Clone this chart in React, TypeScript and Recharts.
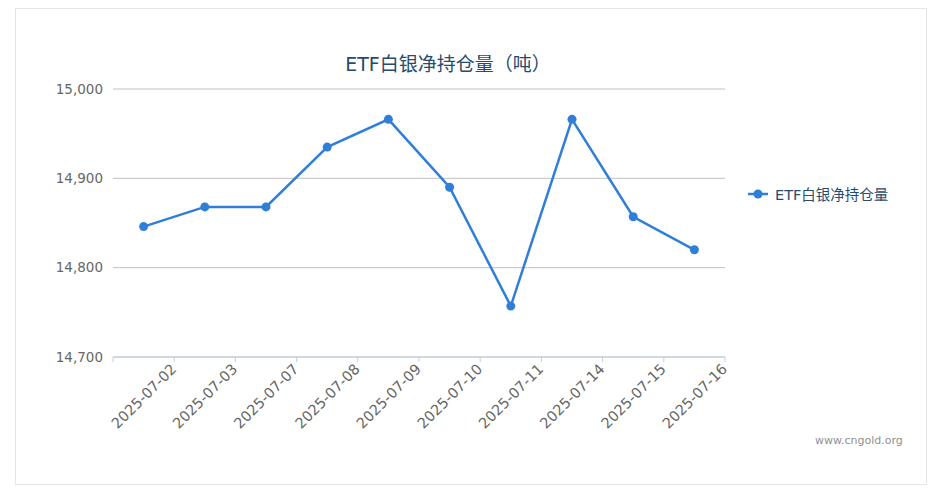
import * as React from "react";
import { CartesianGrid, Legend, Line, LineChart, XAxis, YAxis } from "recharts";

const dates = [
  "2025-07-02",
  "2025-07-03",
  "2025-07-07",
  "2025-07-08",
  "2025-07-09",
  "2025-07-10",
  "2025-07-11",
  "2025-07-14",
  "2025-07-15",
  "2025-07-16",
];
const holdings = [14846, 14868, 14868, 14935, 14966, 14890, 14757, 14966, 14857, 14820];
const yTicks = [14700, 14800, 14900, 15000];

const seriesName = "ETF白银净持仓量";
const title = "ETF白银净持仓量（吨）";

const data = dates.map((d, i) => ({ date: d, v: holdings[i] }));

const W = 943;
const H = 496;
const M = { top: 89, right: 218, left: 53, bottom: 0 };
const BAND = (W - M.left - 60 - M.right) / dates.length;
const LINE = "#2f7ed8";
const AXIS = "#c0d0e0";
const FONT = '"DejaVu Sans", Verdana, "Noto Sans CJK SC", sans-serif';

const DateTick = (props: any) => {
  const { x, y, payload, index } = props;
  const edge = x + BAND / 2;
  const ax = edge + 3;
  const ay = y + 13;
  return (
    <g>
      {index === 0 && (
        <line x1={x - BAND / 2} x2={x - BAND / 2} y1={y} y2={y + 5} stroke={AXIS} />
      )}
      <line x1={edge} x2={edge} y1={y} y2={y + 5} stroke={AXIS} />
      <text
        x={ax}
        y={ay}
        textAnchor="end"
        fill="#666"
        fontSize={14.5}
        fontFamily={FONT}
        transform={`rotate(-45, ${ax}, ${ay})`}
      >
        {payload.value}
      </text>
    </g>
  );
};

const LegendBox = () => (
  <div style={{ display: "flex", alignItems: "center", fontFamily: FONT, fontSize: 14.5, color: "#274b6d" }}>
    <svg width={24} height={12}>
      <line x1={3} x2={23} y1={6} y2={6} stroke={LINE} strokeWidth={2.5} />
      <circle cx={13} cy={6} r={4.5} fill={LINE} />
    </svg>
    <span style={{ marginLeft: 6 }}>{seriesName}</span>
  </div>
);

export default function App() {
  return (
    <div style={{ position: "absolute", left: 0, top: 0, width: W, height: H, background: "#fff" }}>
      <div
        style={{
          position: "absolute",
          left: 15,
          top: 8,
          width: 910,
          height: 475,
          border: "1px solid #e6e6e6",
        }}
      />
      <div
        style={{
          position: "absolute",
          left: 248,
          width: 400,
          top: 49,
          textAlign: "center",
          fontFamily: FONT,
          fontSize: 19,
          color: "#274b6d",
        }}
      >
        {title}
      </div>
      <div
        style={{
          position: "absolute",
          left: 815,
          top: 434,
          fontFamily: FONT,
          fontSize: 11,
          color: "#909090",
        }}
      >
        www.cngold.org
      </div>
      <div style={{ position: "absolute", left: 0, top: 0 }}>
        <LineChart width={W} height={H} data={data} margin={M}>
          <CartesianGrid horizontal vertical={false} stroke="#c0c0c0" />
          <XAxis
            dataKey="date"
            interval={0}
            height={139}
            padding={{ left: BAND / 2, right: BAND / 2 }}
            axisLine={{ stroke: AXIS }}
            tickLine={false}
            tickSize={0}
            tickMargin={0}
            tick={<DateTick />}
          />
          <YAxis
            width={60}
            domain={[14700, 15000]}
            ticks={yTicks}
            axisLine={false}
            tickLine={false}
            tickSize={0}
            tickMargin={10}
            tick={{ fill: "#666", fontSize: 13.5, fontFamily: FONT }}
            tickFormatter={(v: number) => v.toLocaleString("en-US")}
          />
          <Legend
            layout="horizontal"
            verticalAlign="middle"
            align="center"
            wrapperStyle={{ left: 745, top: 183, width: 175 }}
            content={<LegendBox />}
          />
          <Line
            type="linear"
            dataKey="v"
            name={seriesName}
            stroke={LINE}
            strokeWidth={2.5}
            dot={{ r: 4.5, fill: LINE, stroke: LINE, strokeWidth: 0 }}
            activeDot={false}
            isAnimationActive={false}
          />
        </LineChart>
      </div>
    </div>
  );
}
